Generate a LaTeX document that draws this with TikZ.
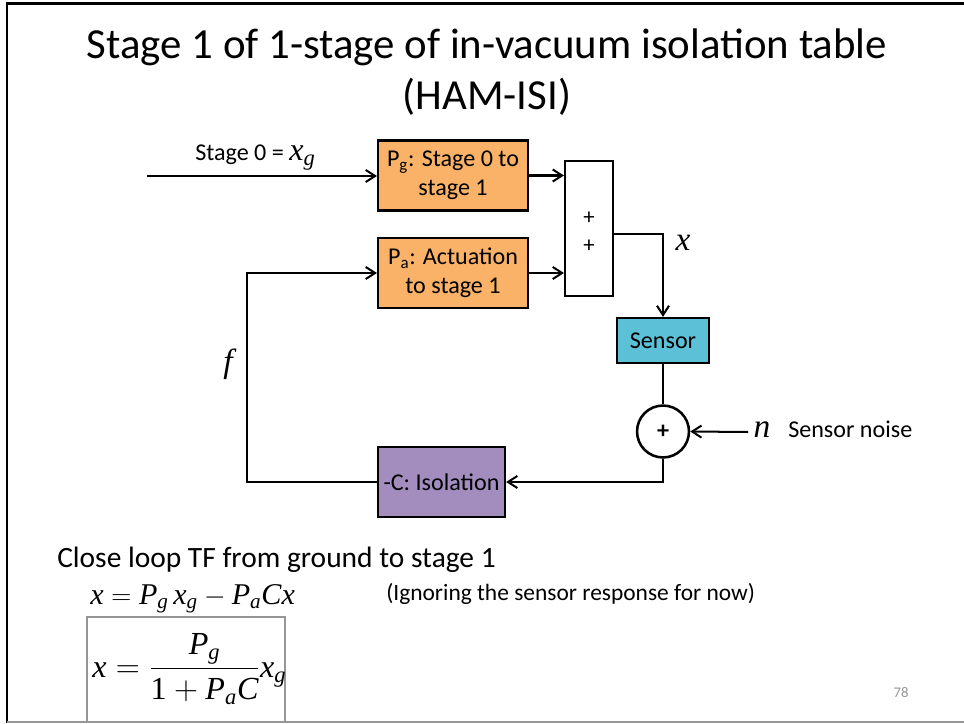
\documentclass[tikz,border=0pt]{standalone}
\usepackage{amsmath}
\usepackage{fontspec}
\setmainfont{Carlito}
\newfontfamily\tms{Liberation Serif}
\usetikzlibrary{arrows.meta}
\definecolor{orgc}{RGB}{250,178,104}
\definecolor{cyac}{RGB}{92,193,214}
\definecolor{purc}{RGB}{162,141,190}
\definecolor{grayc}{RGB}{150,150,150}
\newcommand{\vi}[1]{\text{\tms\itshape #1}}
\begin{document}
\begin{tikzpicture}[x=0.7469pt,y=-0.7469pt,
  blk/.style={draw=black, line width=1.6pt, align=center, inner sep=0pt, font=\fontsize{18}{21.5}\selectfont},
  arr/.style={line width=1.5pt, -{Straight Barb[length=7pt,width=9pt,line width=1.5pt]}},
  ln/.style={line width=1.5pt},
  lbl/.style={inner sep=0pt}]
\useasboundingbox (0,0) rectangle (964,723);
\fill[white] (0,0) rectangle (964,723);
% frame
\draw[line width=2pt] (7,723) -- (7,3.5) -- (964,3.5);
\draw[grayc, line width=1.5pt] (7,722) -- (964,722);
% title
\node[lbl, align=center, font=\fontsize{32}{37.5}\selectfont] (title) at (487,72) {Stage 1 of 1-stage of in-vacuum isolation table\\(HAM-ISI)};
% blocks
\node[blk, fill=orgc, minimum width=112pt, minimum height=52.3pt] (pg) at (453,175.5) {P\textsubscript{g}: Stage 0 to\\stage 1};
\node[blk, fill=orgc, minimum width=112pt, minimum height=52.3pt] (pa) at (453,273) {P\textsubscript{a}: Actuation\\to stage 1};
\node[blk, fill=white, minimum width=35.8pt, minimum height=101pt] (sum) at (589,228.5) {};
\node[lbl, font=\fontsize{17}{17}\selectfont] (plus1) at (589,218) {+};
\node[lbl, font=\fontsize{17}{17}\selectfont] (plus2) at (589,246) {+};
\node[blk, fill=cyac, minimum width=68.7pt, minimum height=33.6pt] (sensor) at (663,340.5) {Sensor};
\node[blk, circle, line width=1.9pt, fill=white, minimum size=38.8pt, font=\bfseries\fontsize{18}{18}\selectfont] (circ) at (663,431.5) {+};
\node[blk, fill=purc, minimum width=94.9pt, minimum height=52.3pt] (iso) at (441.5,482) {-C: Isolation};
% coordinates
\coordinate (in) at (147,176);
\coordinate (nn) at (748,432);
\coordinate (fb) at (247,482);
% connectors
\draw[arr] (in) -- (in -| pg.west);
\draw[arr] (pg.east) -- (pg.east -| sum.west);
\draw[arr] (pa.east) -- (pa.east -| sum.west);
\draw[arr] (sum.east |- 0,234) -| (sensor.north);
\draw[ln] (sensor.south) -- (circ.north);
\draw[arr] (nn) -- (circ.east);
\draw[arr] (circ.south) |- (iso.east);
\draw[arr] (iso.west) -- (fb) |- (pa.west);
% labels
\node[lbl, anchor=base west, font=\fontsize{18}{20}\selectfont] (stg0) at (195,161) {Stage 0 = {\fontsize{24}{24}\selectfont$\vi{x}_{\vi{g}}$}};
\node[lbl, font=\fontsize{25}{25}\selectfont] (xl) at (683,243) {\tms\itshape x};
\node[lbl, font=\fontsize{25}{25}\selectfont] (fl) at (228,364) {\tms\itshape f};
\node[lbl, anchor=base, font=\fontsize{25}{25}\selectfont] (nl) at (762,437) {\tms\itshape n};
\node[lbl, anchor=base west, font=\fontsize{18}{20}\selectfont] (noise) at (788,437) {Sensor noise};
% bottom text
\node[lbl, anchor=base west, font=\fontsize{22}{26}\selectfont] (close) at (57,567) {Close loop TF from ground to stage 1};
\node[lbl, anchor=base west, font=\fontsize{22.5}{26}\selectfont] (eq1) at (90,604) {$\vi{x} = \vi{P}_{\vi{g}}\,\vi{x}_{\vi{g}} - \vi{P}_{\vi{a}}\vi{C}\vi{x}$};
\node[lbl, anchor=base west, font=\fontsize{17.5}{20}\selectfont] (ign) at (386,600) {(Ignoring the sensor response for now)};
\draw[grayc, line width=1pt] (87,722) -- (87,617) -- (285,617) -- (285,722);
\node[lbl, anchor=base west, font=\fontsize{24}{28}\selectfont] (eq2) at (92,677) {$\vi{x} = \dfrac{\vi{P}_{\vi{g}}}{\text{\tms 1}+\vi{P}_{\vi{a}}\vi{C}}\vi{x}_{\vi{g}}$};
\node[lbl, text=grayc, font=\fontsize{11}{12}\selectfont] (pnum) at (901,693) {78};
\end{tikzpicture}
\end{document}
